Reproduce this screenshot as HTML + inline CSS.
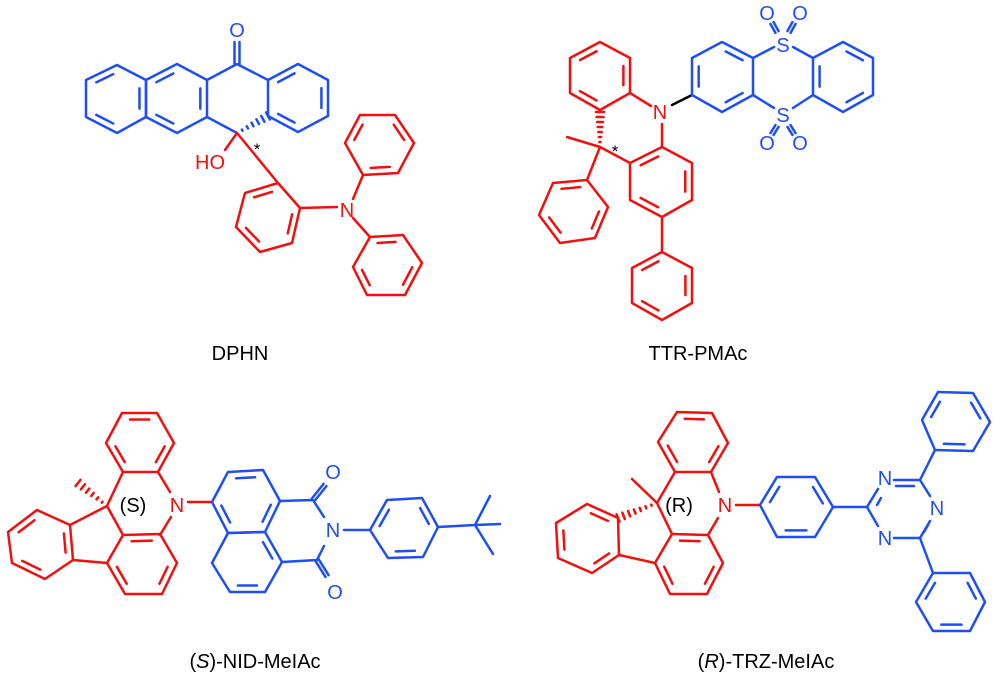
<!DOCTYPE html>
<html><head><meta charset="utf-8"><style>
html,body{margin:0;padding:0;background:#fff;width:1000px;height:677px;overflow:hidden}
svg{display:block}
text{font-family:"Liberation Sans",sans-serif}
</style></head><body>
<svg id="s" width="1000" height="677" viewBox="0 0 1000 677" xmlns="http://www.w3.org/2000/svg">
<g font-size="20" fill="#000" text-anchor="middle">
<text x="240" y="360">DPHN</text>
<text x="698" y="360">TTR-PMAc</text>
<text x="255" y="668">(<tspan font-style="italic">S</tspan>)-NID-MeIAc</text>
<text x="766" y="668">(<tspan font-style="italic">R</tspan>)-TRZ-MeIAc</text>
</g>
<g font-size="20" text-anchor="middle">
<text x="237" y="37" fill="#1f4ff0">O</text>
<text x="210" y="169" fill="#f01010">HO</text>
<text x="257" y="155" fill="#000" font-size="17">*</text>
<text x="347" y="217" fill="#f01010">N</text>
<text x="660" y="119" fill="#f01010">N</text>
<text x="615" y="157" fill="#000" font-size="17">*</text>
<text x="783" y="52" fill="#1f4ff0">S</text>
<text x="783" y="122" fill="#1f4ff0">S</text>
<text x="767" y="20" fill="#1f4ff0">O</text>
<text x="800" y="20" fill="#1f4ff0">O</text>
<text x="767" y="150" fill="#1f4ff0">O</text>
<text x="800" y="150" fill="#1f4ff0">O</text>
<text x="177" y="512" fill="#f01010">N</text>
<text x="133" y="512" fill="#000">(S)</text>
<text x="333" y="479" fill="#1f4ff0">O</text>
<text x="335" y="599" fill="#1f4ff0">O</text>
<text x="333" y="537" fill="#1f4ff0">N</text>
<text x="725" y="512" fill="#f01010">N</text>
<text x="679" y="512" fill="#000">(R)</text>
<text x="885" y="485" fill="#1f4ff0">N</text>
<text x="937" y="515" fill="#1f4ff0">N</text>
<text x="885" y="545" fill="#1f4ff0">N</text>
</g>
<g id="g" fill="none" stroke-width="2.5" stroke-linecap="round" stroke-linejoin="round"></g>
</svg>
<script>
var g=document.getElementById('g'),NS='http://www.w3.org/2000/svg';
var B='#1f4ff0',R='#f01010',K='#000';
function L(c,pts){var p=document.createElementNS(NS,'polyline');p.setAttribute('points',pts.map(function(a){return a.join(',')}).join(' '));p.setAttribute('stroke',c);g.appendChild(p);}
function ring(c,pts,d){var q=pts.concat([pts[0]]);L(c,q);var cx=0,cy=0;pts.forEach(function(p){cx+=p[0];cy+=p[1]});cx/=pts.length;cy/=pts.length;
d.forEach(function(i){var a=pts[i],b=pts[(i+1)%pts.length];function f(p){return [p[0]+(cx-p[0])*0.22,p[1]+(cy-p[1])*0.22]}
var A=f(a),Bp=f(b);var dx=Bp[0]-A[0],dy=Bp[1]-A[1];L(c,[[A[0]+dx*.15,A[1]+dy*.15],[Bp[0]-dx*.15,Bp[1]-dy*.15]]);});}
function hash(c,a,b,n){for(var i=1;i<=n;i++){var t=i/n,x=a[0]+(b[0]-a[0])*t,y=a[1]+(b[1]-a[1])*t;var dx=b[0]-a[0],dy=b[1]-a[1],l=Math.hypot(dx,dy),w=t*4;L(c,[[x-dy/l*w,y+dx/l*w],[x+dy/l*w,y-dx/l*w]]);}}
function dbl(c,a,b,o){var dx=b[0]-a[0],dy=b[1]-a[1],l=Math.hypot(dx,dy),nx=-dy/l*o,ny=dx/l*o;L(c,[[a[0]+nx,a[1]+ny],[b[0]+nx,b[1]+ny]]);L(c,[[a[0]-nx,a[1]-ny],[b[0]-nx,b[1]-ny]]);}
// DPHN
ring(B,[[117,65],[146,80],[146,117],[117,133],[86,117],[86,80]],[1,3,5]);
ring(B,[[146,80],[177,64],[207,80],[207,117],[177,133],[146,117]],[0,2,4]);
ring(B,[[268,80],[298,64],[328,80],[328,116],[298,132],[268,116]],[0,2,4]);
L(B,[[207,80],[237,64],[268,80]]);dbl(B,[237,64],[237,42],2.5);
L(B,[[207,117],[237,133]]);hash(B,[237,133],[268,116],6);
L(R,[[237,133],[225,150]]);L(R,[[237,133],[278,183]]);
ring(R,[[278,183],[300,208],[292,243],[260,252],[236,227],[245,193]],[1,3,5]);
L(R,[[300,208],[337,207]]);L(R,[[353,199],[363,175]]);L(R,[[353,218],[370,237]]);
ring(R,[[363,175],[398,173],[414,143],[395,115],[360,115],[345,143]],[0,2,4]);
ring(R,[[370,237],[403,235],[422,263],[405,295],[367,295],[353,267]],[0,2,4]);
// TTR
ring(R,[[600,42],[630,58],[630,93],[600,110],[570,93],[570,58]],[1,3,5]);
L(R,[[630,93],[651,106]]);hash(R,[600,147],[600,112],7);L(R,[[600,147],[567,137]]);
ring(R,[[630,163],[662,147],[692,163],[692,200],[662,217],[630,200]],[0,2,4]);
L(R,[[662,124],[662,147]]);L(R,[[600,147],[630,163]]);L(R,[[600,147],[587,180]]);
ring(R,[[587,180],[608,207],[595,238],[560,243],[539,215],[553,183]],[1,3,5]);
L(R,[[662,217],[662,252]]);
ring(R,[[662,252],[692,268],[692,303],[662,320],[632,303],[632,268]],[1,3,5]);
L(K,[[672,105],[692,95]]);
ring(B,[[692,95],[692,58],[722,42],[753,58],[753,95],[722,112]],[0,2,4]);
ring(B,[[813,58],[843,42],[873,58],[873,95],[843,112],[813,95]],[1,3,5]);
L(B,[[753,58],[774,47]]);L(B,[[793,47],[813,58]]);L(B,[[753,95],[774,108]]);L(B,[[793,108],[813,95]]);
dbl(B,[777,32],[772,23],1.8);dbl(B,[789,32],[794,23],1.8);dbl(B,[777,126],[772,134],1.8);dbl(B,[789,126],[794,134],1.8);
// NID
ring(R,[[122,413],[157,413],[174,443],[158,472],[123,472],[106,443]],[0,2,4]);
L(R,[[158,472],[170,492]]);L(R,[[160,535],[171,517]]);L(R,[[123,472],[107,506]]);hash(R,[107,506],[78,483],6);
ring(R,[[123,535],[160,534],[177,563],[162,594],[125,594],[107,563]],[0,2,4]);
L(R,[[107,506],[123,535]]);L(R,[[107,506],[70,525]]);
ring(R,[[70,525],[37,510],[8,532],[12,563],[45,579],[73,560]],[1,3,5]);
L(R,[[73,560],[107,563]]);L(R,[[188,502],[212,502]]);
ring(B,[[212,502],[228,472],[263,470],[280,501],[265,532],[228,533]],[1,3,5]);
ring(B,[[228,533],[265,532],[282,562],[265,592],[230,592],[212,563]],[1,3]);
L(B,[[280,501],[313,500],[324,517]]);L(B,[[282,562],[317,560],[324,546]]);
dbl(B,[313,500],[325,485],1.8);dbl(B,[317,560],[327,576],1.8);
L(B,[[344,530],[370,530]]);
ring(B,[[370,530],[387,500],[422,498],[438,527],[423,557],[388,558]],[0,2,4]);
L(B,[[438,527],[475,525]]);L(B,[[475,525],[490,496]]);L(B,[[475,525],[500,524]]);L(B,[[475,525],[493,554]]);
// TRZ
ring(R,[[677,412],[712,413],[728,443],[711,472],[675,472],[658,442]],[0,2,4]);
L(R,[[711,472],[719,492]]);L(R,[[708,535],[718,518]]);L(R,[[675,472],[657,503]]);L(R,[[657,503],[632,479]]);hash(R,[657,503],[618,518],7);
ring(R,[[672,534],[708,535],[723,563],[707,594],[670,594],[655,563]],[0,2,4]);
L(R,[[657,503],[672,534]]);
ring(R,[[618,518],[587,504],[556,523],[558,558],[592,573],[619,555]],[0,2,4]);
L(R,[[619,555],[655,563]]);L(R,[[736,505],[760,505]]);
ring(B,[[760,505],[777,477],[815,477],[833,507],[815,537],[777,537]],[0,2,4]);
L(B,[[833,507],[867,507]]);
L(B,[[867,507],[878,489]]);L(B,[[894,480],[920,480],[930,496]]);L(B,[[930,521],[920,538],[894,538]]);L(B,[[878,526],[867,507]]);
L(B,[[896,486],[914,486]]);L(B,[[877,505],[881,498]]);L(B,[[924,532],[928,525]]);
L(B,[[920,480],[935,450]]);L(B,[[920,538],[933,573]]);
ring(B,[[935,450],[973,451],[990,422],[973,393],[938,392],[922,420]],[0,2,4]);
ring(B,[[933,573],[970,573],[985,602],[970,631],[933,631],[916,602]],[1,3,5]);
</script>
</body></html>
